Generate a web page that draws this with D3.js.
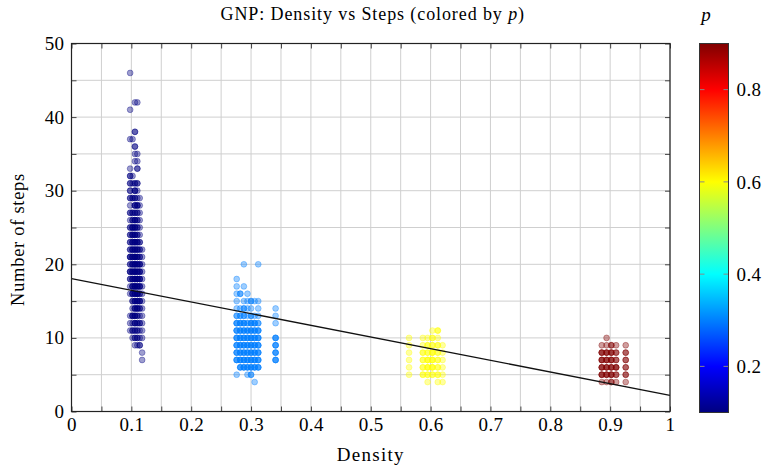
<!DOCTYPE html>
<html>
<head>
<meta charset="utf-8">
<script src="https://cdn.jsdelivr.net/npm/d3@7"></script>
<style>
  html, body { margin: 0; padding: 0; background: #fff; }
  svg { display: block; }
  text { font-family: "Liberation Serif", "DejaVu Serif", serif; fill: #000; }
</style>
</head>
<body>
<svg id="chart" width="765" height="470"></svg>
<script>
// ---------- data ----------
const title = "GNP: Density vs Steps (colored by ";
const xLabel = "Density";
const yLabel = "Number of steps";
const colorLabel = "p";

const xTicks = [0, 0.1, 0.2, 0.3, 0.4, 0.5, 0.6, 0.7, 0.8, 0.9, 1];
const yTicks = [0, 10, 20, 30, 40, 50];
const cTicks = [0.2, 0.4, 0.6, 0.8];

const pValues = [0.1, 0.3, 0.6, 0.9];

// cluster p = 0.1
const cols1 = [0.098, 0.102, 0.106, 0.110, 0.114, 0.118];
const steps1 = [46, 42, 41, 38, 37, 36, 35, 34, 33, 32, 31, 30, 29, 28, 27, 26, 25, 24, 23, 22, 21, 20, 19, 18, 17, 16, 15, 14, 13, 12, 11, 10, 9, 8, 7];
const counts1 = [
  [1,0,0,0,0,0],[0,0,1,1,0,0],[1,0,0,0,0,0],[0,0,2,0,0,0],[1,1,0,0,0,0],
  [0,0,2,0,0,0],[0,0,1,1,0,0],[0,0,1,1,0,0],[1,0,0,2,0,0],[2,1,0,0,0,0],
  [2,1,2,2,0,0],[2,0,3,1,0,0],[2,2,2,1,1,0],[1,0,3,3,1,0],[2,2,2,2,1,0],
  [1,2,3,2,1,0],[2,3,3,2,1,0],[2,3,3,2,1,0],[2,3,4,3,2,0],[2,3,3,3,2,1],
  [3,3,4,3,2,1],[2,3,4,3,3,1],[3,3,4,3,3,1],[2,3,4,4,3,1],[1,3,4,3,3,1],
  [1,3,3,4,2,1],[0,2,3,3,3,1],[0,1,3,3,2,1],[1,3,3,2,1,1],[1,1,3,2,2,1],
  [1,2,2,2,1,1],[0,1,2,2,1,1],[0,0,1,1,2,0],[0,0,0,0,0,1],[0,0,0,0,0,1]
];

// cluster p = 0.3
const cols2 = [0.276, 0.282, 0.288, 0.294, 0.300, 0.306, 0.312, 0.341];
const steps2 = [20, 18, 17, 16, 15, 14, 13, 12, 11, 10, 9, 8, 7, 6, 5, 4];
const counts2 = [
  [0,0,1,0,0,0,1,0],[1,0,0,0,0,0,0,0],[1,0,1,0,0,0,0,0],[1,2,0,1,0,0,0,0],
  [1,0,1,1,2,1,1,0],[1,1,2,1,1,0,1,1],[2,2,2,1,2,1,1,1],[3,3,3,2,3,3,2,1],
  [3,3,3,3,3,3,3,0],[3,3,3,3,3,3,3,3],[3,3,3,3,3,3,3,3],[3,3,3,3,3,3,3,3],
  [3,3,3,3,3,3,3,3],[0,3,3,3,3,3,3,0],[1,0,0,1,2,0,0,0],[0,0,0,0,0,1,0,0]
];

// cluster p = 0.6
const cols3 = [0.564, 0.587, 0.595, 0.603, 0.612, 0.620];
const steps3 = [11, 10, 9, 8, 7, 6, 5, 4];
const counts3 = [
  [0,0,0,1,2,0],[1,1,1,2,1,0],[1,1,2,2,2,1],[1,2,2,3,2,1],
  [1,2,3,3,2,1],[1,2,3,3,2,1],[1,2,2,2,2,1],[0,0,1,0,1,1]
];

// cluster p = 0.9
const cols4 = [0.886, 0.894, 0.902, 0.910, 0.926];
const steps4 = [10, 9, 8, 7, 6, 5, 4];
const counts4 = [
  [0,1,0,0,0],[1,1,2,1,1],[3,3,3,2,2],[3,3,3,2,2],
  [3,3,3,3,2],[3,3,3,2,2],[1,1,2,1,1]
];

// linear fit
const fitIntercept = 18.05;
const fitSlope = -15.85;

// ---------- build ----------
const clusters = [
  {p: pValues[0], cols: cols1, steps: steps1, counts: counts1},
  {p: pValues[1], cols: cols2, steps: steps2, counts: counts2},
  {p: pValues[2], cols: cols3, steps: steps3, counts: counts3},
  {p: pValues[3], cols: cols4, steps: steps4, counts: counts4}
];
const points = [];
clusters.forEach(c => {
  c.steps.forEach((s, i) => {
    c.cols.forEach((d, j) => {
      for (let k = 0; k < c.counts[i][j]; k++) points.push({d, s, p: c.p});
    });
  });
});

const svg = d3.select("#chart");
const M = {left: 71.5, right: 670, top: 43.5, bottom: 411.5};

const x = d3.scaleLinear().domain([0, 1]).range([M.left, M.right]);
const y = d3.scaleLinear().domain([0, 50]).range([M.bottom, M.top]);

// jet (pgfplots)
const cMin = 0.1, cMax = 0.9;
const jetStops = [0, 1/8, 3/8, 5/8, 7/8, 1];
const jetColors = ["rgb(0,0,128)", "rgb(0,0,255)", "rgb(0,255,255)", "rgb(255,255,0)", "rgb(255,0,0)", "rgb(128,0,0)"];
const jet = d3.scaleLinear().domain(jetStops).range(jetColors).interpolate(d3.interpolateRgb);
const color = v => jet((v - cMin) / (cMax - cMin));

// grid
const xGrid = d3.range(0, 1.0001, 0.05);
const yGrid = d3.range(0, 50.0001, 5);
const g = svg.append("g");
g.selectAll(".vg").data(xGrid).join("line")
  .attr("x1", d => x(d)).attr("x2", d => x(d))
  .attr("y1", M.top).attr("y2", M.bottom)
  .attr("stroke", "#cfcfcf").attr("stroke-width", 1);
g.selectAll(".hg").data(yGrid).join("line")
  .attr("x1", M.left).attr("x2", M.right)
  .attr("y1", d => y(d)).attr("y2", d => y(d))
  .attr("stroke", "#cfcfcf").attr("stroke-width", 1);

// points
svg.append("g").selectAll("circle").data(points).join("circle")
  .attr("cx", d => x(d.d)).attr("cy", d => y(d.s)).attr("r", 2.9)
  .attr("fill", d => color(d.p)).attr("fill-opacity", 0.38)
  .attr("stroke", d => color(d.p)).attr("stroke-opacity", 0.45).attr("stroke-width", 0.8);

// fit line
svg.append("line")
  .attr("x1", x(0)).attr("y1", y(fitIntercept))
  .attr("x2", x(1)).attr("y2", y(fitIntercept + fitSlope))
  .attr("stroke", "#111").attr("stroke-width", 1.3);

// axes ticks (inward, all sides)
const tickLen = 5;
const axB = d3.axisBottom(x).tickValues(xGrid).tickSize(-tickLen)
  .tickFormat(d => xTicks.some(t => Math.abs(t - d) < 1e-9) ? d3.format("")(+d.toFixed(2)) : "");
const axT = d3.axisTop(x).tickValues(xGrid).tickSize(-tickLen).tickFormat("");
const axL = d3.axisLeft(y).tickValues(yGrid).tickSize(-tickLen)
  .tickFormat(d => yTicks.includes(d) ? d : "");
const axR = d3.axisRight(y).tickValues(yGrid).tickSize(-tickLen).tickFormat("");

function styleAxis(sel) {
  sel.select(".domain").remove();
  sel.selectAll(".tick line").attr("stroke", "#444").attr("stroke-width", 1);
  sel.selectAll(".tick text").style("font-family", "'Liberation Serif', serif").style("font-size", "19px")
    .style("letter-spacing", "0.4px").attr("fill", "#000");
}
svg.append("g").attr("transform", `translate(0,${M.bottom})`).call(axB).call(styleAxis)
  .selectAll(".tick text").attr("dy", "0.85em");
svg.append("g").attr("transform", `translate(0,${M.top})`).call(axT).call(styleAxis);
svg.append("g").attr("transform", `translate(${M.left},0)`).call(axL).call(styleAxis)
  .selectAll(".tick text").attr("x", -7);
svg.append("g").attr("transform", `translate(${M.right},0)`).call(axR).call(styleAxis);

// frame
svg.append("rect").attr("x", M.left).attr("y", M.top)
  .attr("width", M.right - M.left).attr("height", M.bottom - M.top)
  .attr("fill", "none").attr("stroke", "#222").attr("stroke-width", 1.2);

// title
const t = svg.append("text").attr("x", (M.left + M.right) / 2 + 2).attr("y", 20)
  .attr("text-anchor", "middle").style("font-size", "18px").style("letter-spacing", "0.9px");
t.append("tspan").text(title);
t.append("tspan").style("font-style", "italic").text(colorLabel);
t.append("tspan").text(")");

// axis labels
svg.append("text").attr("x", (M.left + M.right) / 2).attr("y", 461)
  .attr("text-anchor", "middle").style("font-size", "19px").style("letter-spacing", "1.3px").text(xLabel);
svg.append("text").attr("transform", `translate(24,${(M.top + M.bottom) / 2 + 12}) rotate(-90)`)
  .attr("text-anchor", "middle").style("font-size", "18.5px").style("letter-spacing", "0.7px").text(yLabel);

// colorbar
const cb = {x: 699.5, w: 29, top: M.top, bottom: M.bottom + 1};
const cy = d3.scaleLinear().domain([cMin, cMax]).range([cb.bottom, cb.top]);
const defs = svg.append("defs");
const grad = defs.append("linearGradient").attr("id", "jetgrad")
  .attr("x1", 0).attr("y1", 1).attr("x2", 0).attr("y2", 0);
grad.selectAll("stop").data(jetStops).join("stop")
  .attr("offset", d => d).attr("stop-color", (d, i) => jetColors[i]);
svg.append("rect").attr("x", cb.x).attr("y", cb.top).attr("width", cb.w)
  .attr("height", cb.bottom - cb.top).attr("fill", "url(#jetgrad)");
svg.append("g").selectAll("line.l").data(cTicks).join("line")
  .attr("x1", cb.x).attr("x2", cb.x + 5).attr("y1", d => cy(d)).attr("y2", d => cy(d))
  .attr("stroke", "#888").attr("stroke-width", 1);
svg.append("g").selectAll("line.r").data(cTicks).join("line")
  .attr("x1", cb.x + cb.w - 5).attr("x2", cb.x + cb.w).attr("y1", d => cy(d)).attr("y2", d => cy(d))
  .attr("stroke", "#888").attr("stroke-width", 1);
svg.append("rect").attr("x", cb.x).attr("y", cb.top).attr("width", cb.w)
  .attr("height", cb.bottom - cb.top).attr("fill", "none").attr("stroke", "#333").attr("stroke-width", 1);
svg.append("g").selectAll("text").data(cTicks).join("text")
  .attr("x", cb.x + cb.w + 8).attr("y", d => cy(d)).attr("dy", "0.35em")
  .style("font-size", "19px").style("letter-spacing", "0.4px").text(d => d3.format(".1f")(d));
svg.append("text").attr("x", 706).attr("y", 21).attr("text-anchor", "middle")
  .style("font-size", "19px").style("font-style", "italic").text(colorLabel);
</script>
</body>
</html>
